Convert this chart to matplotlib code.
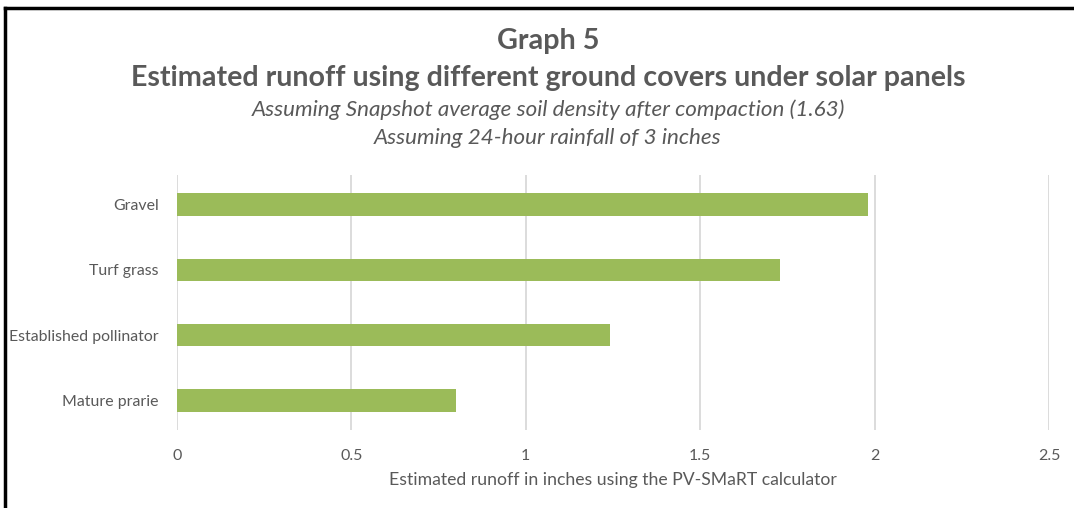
import matplotlib
matplotlib.use("Agg")
import matplotlib.pyplot as plt
from matplotlib.lines import Line2D

categories = ["Gravel", "Turf grass", "Established pollinator", "Mature prarie"]
runoff = [1.98, 1.73, 1.24, 0.80]
xticks = [0, 0.5, 1, 1.5, 2, 2.5]
xtick_labels = ["0", "0.5", "1", "1.5", "2", "2.5"]

W, H = 1074, 508
fig = plt.figure(figsize=(W / 100, H / 100), dpi=100)
fig.patch.set_facecolor("white")

font = ["Lato", "DejaVu Sans"]
text_color = "#595959"
bar_color = "#9bbb59"
grid_color = "#d9d9d9"

ax = fig.add_axes([177 / W, 1 - 430 / H, (1049 - 177) / W, (430 - 175) / H])
ypos = list(range(len(categories)))[::-1]
ax.barh(ypos, runoff, height=0.34, color=bar_color, zorder=3)
ax.set_xlim(0, 2.5)
ax.set_ylim(-0.45, len(categories) - 0.55)
ax.set_xticks(xticks)
ax.set_xticklabels(xtick_labels, family=font, fontsize=11.5, color=text_color)
ax.set_yticks(ypos)
ax.set_yticklabels(categories, family=font, fontsize=11.4, color=text_color)
ax.tick_params(axis="both", length=0)
ax.tick_params(axis="x", pad=14)
ax.tick_params(axis="y", pad=13)
ax.grid(axis="x", color=grid_color, linewidth=1.3, zorder=0)
for s in ax.spines.values():
    s.set_visible(False)
ax.set_xlabel("Estimated runoff in inches using the PV-SMaRT calculator",
              family=font, fontsize=12.7, color=text_color, labelpad=6)

fig.text(548 / W, 1 - 41 / H, "Graph 5", ha="center", va="center",
         family=font, fontsize=20.7, fontweight="bold", color=text_color)
fig.text(548 / W, 1 - 78 / H,
         "Estimated runoff using different ground covers under solar panels",
         ha="center", va="center", family=font, fontsize=20.6,
         fontweight="bold", color=text_color)
fig.text(548 / W, 1 - 110 / H,
         "Assuming Snapshot average soil density after compaction (1.63)",
         ha="center", va="center", family=font, fontsize=16.1,
         style="italic", color=text_color)
fig.text(548 / W, 1 - 138 / H, "Assuming 24-hour rainfall of 3 inches",
         ha="center", va="center", family=font, fontsize=16.1,
         style="italic", color=text_color)

# Frame lines along the top and left edges
fig.add_artist(Line2D([5 / W, 5 / W], [0, 1 - 8 / H], color="black",
                      linewidth=2.5, transform=fig.transFigure))
fig.add_artist(Line2D([5 / W, 1], [1 - 8 / H, 1 - 8 / H], color="black",
                      linewidth=2.5, transform=fig.transFigure))

fig.savefig("out.png", dpi=100, facecolor="white")
